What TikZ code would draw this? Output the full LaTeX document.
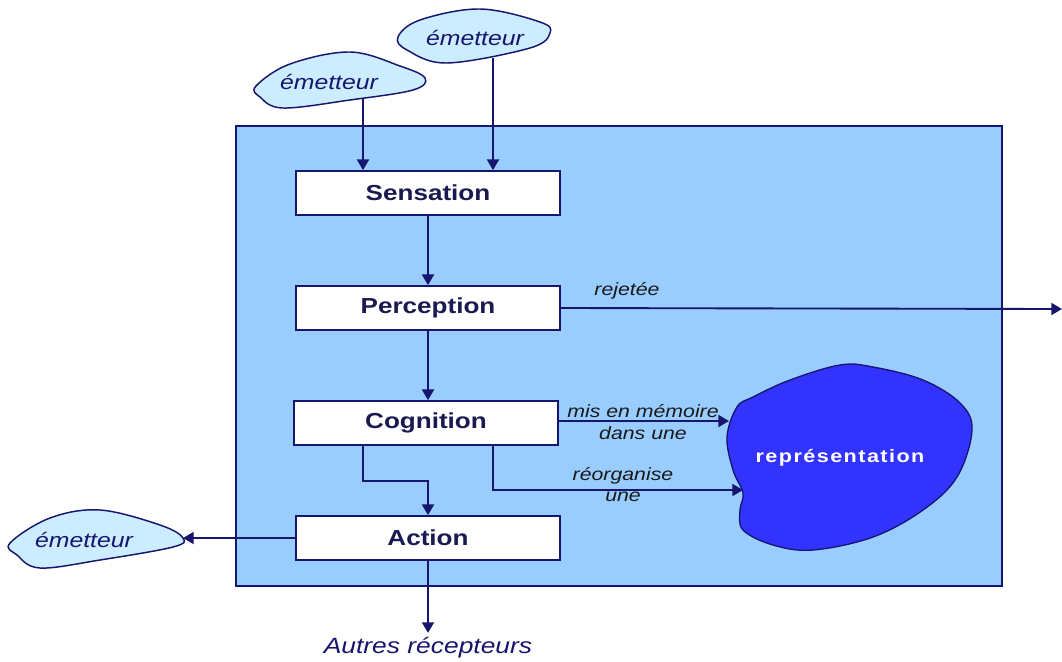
\documentclass[tikz,border=0pt]{standalone}
\usepackage{fontspec}
\setmainfont{Liberation Sans}[FakeStretch=1.2]
\usetikzlibrary{arrows.meta}

\definecolor{navy}{HTML}{16166E}
\definecolor{inktext}{HTML}{1A1A50}
\definecolor{framefill}{HTML}{99CCFF}
\definecolor{cloudfill}{HTML}{CCECFF}
\definecolor{repfill}{HTML}{3333FF}

\tikzset{
  stage/.style={draw=navy, line width=1.3pt, fill=white, inner sep=0pt,
    minimum width=198pt, minimum height=33pt, text=inktext,
    font=\fontsize{16.3}{19}\selectfont\bfseries},
  cloud/.style={draw=navy, line width=1.1pt, fill=cloudfill},
  cloudtext/.style={text=navy, font=\fontsize{15.5}{18}\selectfont\itshape},
  flow/.style={draw=navy, line width=1.4pt, -{Triangle[width=9pt,length=8pt]}},
  tag/.style={text=black!90, font=\fontsize{13.3}{15}\selectfont\itshape, inner sep=0pt}
}

\begin{document}
\begin{tikzpicture}[x=0.75pt, y=-0.75pt]
\useasboundingbox (0,0) rectangle (1062,661);

% outer frame
\node[draw=navy, line width=1.2pt, fill=framefill, inner sep=0pt,
      minimum width=574.5pt, minimum height=345pt] (frame) at (619,356) {};

% emitter clouds
\draw[cloud] plot[smooth cycle, tension=0.6] coordinates
  {(256,86) (290,64) (350,52) (400,66) (425,78) (413,90) (350,100) (283,108) (260,97)};
\node[cloudtext] (em1) at (329,82) {émetteur};

\draw[cloud] plot[smooth cycle, tension=0.6] coordinates
  {(398,37) (420,20) (480,9) (540,22) (550,33) (530,48) (447,63) (407,50)};
\node[cloudtext] (em2) at (475,38) {émetteur};

\draw[cloud] plot[smooth cycle, tension=0.6] coordinates
  {(10,543) (50,518) (100,510) (160,525) (183,538) (173,547) (100,560) (40,568) (17,555)};
\node[cloudtext] (em3) at (84,540) {émetteur};

% representation blob
\draw[draw=navy, line width=1pt, fill=repfill] plot[smooth cycle, tension=0.6] coordinates
  {(840,365) (873,367) (923,380) (960,403) (972,430) (957,477) (923,510) (873,537)
   (813,550) (773,545) (743,530) (740,510) (743,493) (733,470) (727,437) (737,407)
   (753,397) (790,380)};
\node[text=white, font=\fontsize{13.5}{15}\selectfont\bfseries\addfontfeatures{LetterSpace=8}]
  (rep) at (840,458) {représentation};

% stages
\node[stage] (sens) at (428,193) {Sensation};
\node[stage] (perc) at (428,308) {Perception};
\node[stage] (cog)  at (426,423) {Cognition};
\node[stage] (act)  at (428,538) {Action};

\node[text=navy, font=\fontsize{16.5}{19}\selectfont\itshape] (autres) at (428,648) {Autres récepteurs};

% connector end points
\coordinate (e1) at (363,99);
\coordinate (e2) at (493,58);
\coordinate (e3) at (183,538);
\coordinate (out) at (1062,309);
\coordinate (repa) at (729,421);
\coordinate (repb) at (743,490);
\coordinate (j1) at (363,481);
\coordinate (j2) at (493,490);

% connectors
\draw[flow] (e1) -- (sens.north -| e1);
\draw[flow] (e2) -- (sens.north -| e2);
\draw[flow] (sens.south) -- (perc.north);
\draw[flow] (perc.south) -- (perc.south |- cog.north);
\draw[flow] (cog.south -| j1) -- (j1) -| (act.north);
\draw[flow] (perc.east) -- (out);
\draw[flow] (cog.east |- repa) -- (repa);
\draw[flow] (cog.south -| j2) -- (j2) -- (repb);
\draw[flow] (act.west) -- (e3);
\draw[flow] (act.south) -- (autres.north);

% connector labels
\node[tag] (lrej) at (627,291) {rejetée};
\node[tag] (lmem1) at (643,411) {mis en mémoire};
\node[tag] (lmem2) at (643,433) {dans une};
\node[tag] (lreo1) at (623,476) {réorganise};
\node[tag] (lreo2) at (623,497) {une};
\end{tikzpicture}
\end{document}
